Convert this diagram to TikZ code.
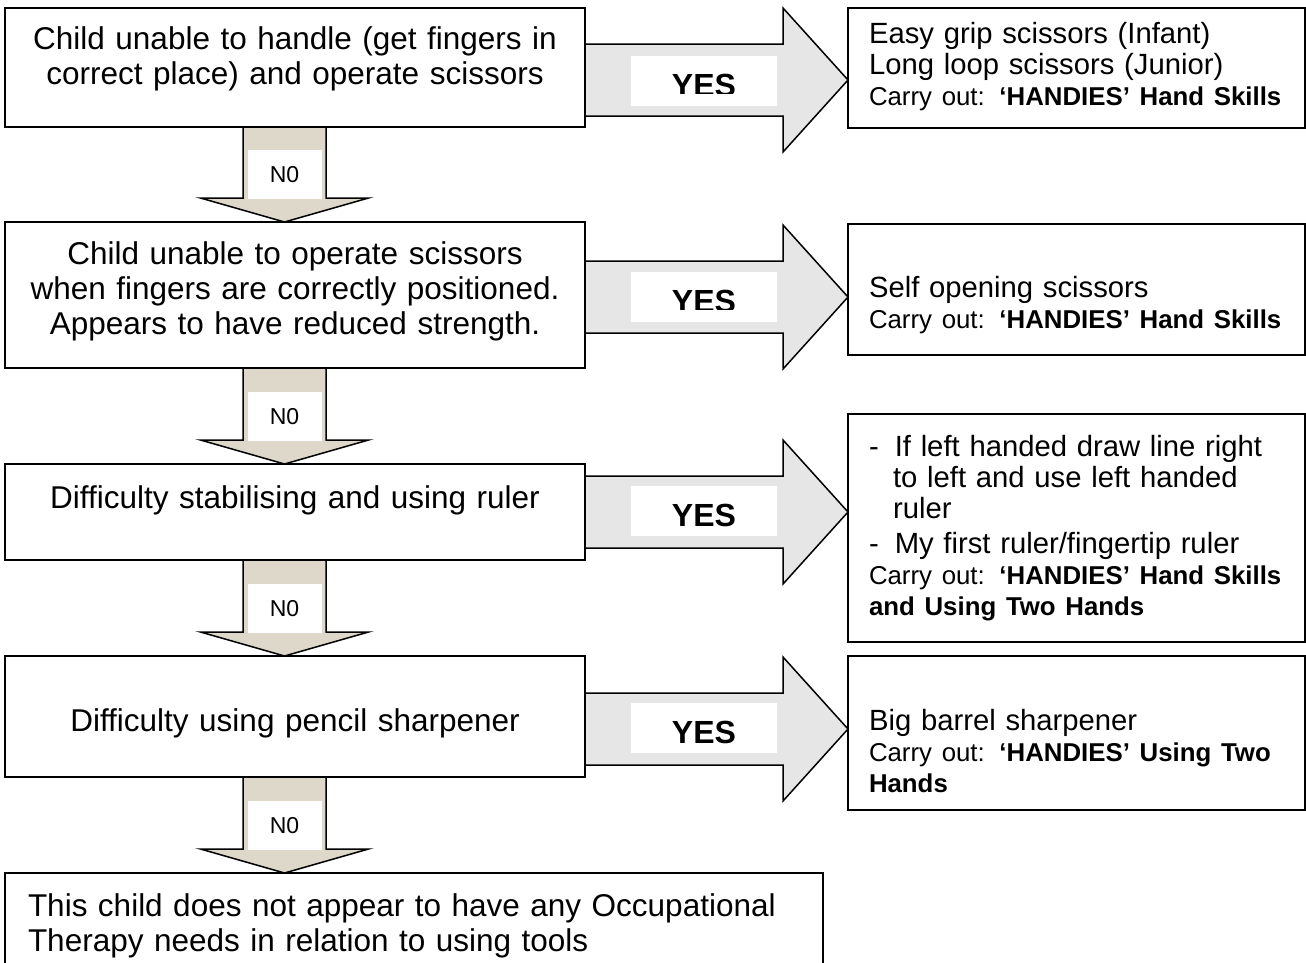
\documentclass[tikz,border=0pt]{standalone}
\usepackage{fontspec}
\setmainfont{Liberation Sans}
\usetikzlibrary{positioning, calc}

\definecolor{nofill}{RGB}{222,216,203}
\definecolor{yesfill}{RGB}{230,230,230}
\newcommand{\rindent}{\hspace*{19pt}}
\newcommand{\carryfont}{\fontsize{25.8}{31}\selectfont}

\begin{document}
\begin{tikzpicture}[x=1pt, y=-1pt,
        qbox/.style={
            draw=black, fill=white, line width=1.5pt, outer sep=0pt,
            anchor=north west, inner xsep=10pt, inner ysep=0pt,
            text width=560pt, align=center,
            font=\fontsize{31.5}{35}\selectfont
        },
        rbox/.style={
            draw=black, fill=white, line width=1.5pt, outer sep=0pt,
            anchor=north west, inner xsep=2pt, inner ysep=0pt,
            text width=453pt, align=left,
            font=\fontsize{29.25}{31}\selectfont
        },
        noarrow/.style={draw=black, fill=nofill, line width=1.5pt, line join=miter},
        yesarrow/.style={draw=black, fill=yesfill, line width=1.5pt, line join=miter},
        nolabel/.style={fill=white, minimum width=74pt, minimum height=49pt, inner sep=0pt,
            font=\fontsize{23}{27}\selectfont},
        yeslabel/.style={fill=white, minimum width=146pt, minimum height=50pt, inner sep=0pt},
        yestext/.style={inner sep=0pt, text height=30pt, text depth=0pt,
            font=\fontsize{32}{36}\selectfont\bfseries}
    ]
        \useasboundingbox (0,0) rectangle (1306,962);

        % questions
        \node[qbox, text height=41pt, text depth=78pt] (q1) at (5,8) {
            Child unable to handle (get fingers in\\
            correct place) and operate scissors
        };
        \node[qbox, text height=42pt, text depth=104pt] (q2) at (5,222) {
            Child unable to operate scissors\\
            when fingers are correctly positioned.\\
            Appears to have reduced strength.
        };
        \node[qbox, text height=44pt, text depth=52pt] (q3) at (5,464) {
            Difficulty stabilising and using ruler
        };
        \node[qbox, text height=75pt, text depth=46pt] (q4) at (5,656) {
            Difficulty using pencil sharpener
        };
        \node[qbox, text height=43pt, text depth=52pt, inner xsep=23pt,
            text width=772pt, align=left] (q5) at (5,873) {
            This child does not appear to have any Occupational\\
            Therapy needs in relation to using tools
        };

        % answers
        \node[rbox, text height=35pt, text depth=85pt] (r1) at (848,8) {
            \rindent Easy grip scissors (Infant)\\
            \rindent Long loop scissors (Junior)\\
            \rindent {\carryfont Carry out: \textbf{‘HANDIES’ Hand Skills}}
        };
        \node[rbox, text height=73pt, text depth=58pt] (r2) at (848,224) {
            \rindent Self opening scissors\\
            \rindent {\carryfont Carry out: \textbf{‘HANDIES’ Hand Skills}}
        };
        \node[rbox, text height=42pt, text depth=186pt] (r3) at (848,414) {
            \rindent -\hspace*{16pt}If left handed draw line right\\
            \hspace*{43pt}to left and use left handed\\
            \hspace*{43pt}ruler\\[4pt]
            \rindent -\hspace*{16pt}My first ruler/fingertip ruler\\
            \rindent {\carryfont Carry out: \textbf{‘HANDIES’ Hand Skills}}\\
            \rindent {\carryfont\bfseries and Using Two Hands}
        };
        \node[rbox, text height=74pt, text depth=80pt] (r4) at (848,656) {
            \rindent Big barrel sharpener\\
            \rindent {\carryfont Carry out: \textbf{‘HANDIES’ Using Two}}\\
            \rindent {\carryfont\bfseries Hands}
        };

        % NO arrows
        \coordinate (spine) at (284.5,0);
        \draw[noarrow] ($(spine |- q1.south)+(-41.5,0)$) -- ($(spine |- q2.north)+(-41.5,-24)$)
            -- ++(-42.5,0) -- (spine |- q2.north) -- ++(84,-24) -- ++(-42.5,0)
            -- ($(spine |- q1.south)+(41.5,0)$) -- cycle;
        \node[nolabel] (n1) at ($(spine |- q2.north)+(0,-47.5)$) {N0};

        \draw[noarrow] ($(spine |- q2.south)+(-41.5,0)$) -- ($(spine |- q3.north)+(-41.5,-24)$)
            -- ++(-42.5,0) -- (spine |- q3.north) -- ++(84,-24) -- ++(-42.5,0)
            -- ($(spine |- q2.south)+(41.5,0)$) -- cycle;
        \node[nolabel] (n2) at ($(spine |- q3.north)+(0,-47.5)$) {N0};

        \draw[noarrow] ($(spine |- q3.south)+(-41.5,0)$) -- ($(spine |- q4.north)+(-41.5,-24)$)
            -- ++(-42.5,0) -- (spine |- q4.north) -- ++(84,-24) -- ++(-42.5,0)
            -- ($(spine |- q3.south)+(41.5,0)$) -- cycle;
        \node[nolabel] (n3) at ($(spine |- q4.north)+(0,-47.5)$) {N0};

        \draw[noarrow] ($(spine |- q4.south)+(-41.5,0)$) -- ($(spine |- q5.north)+(-41.5,-24)$)
            -- ++(-42.5,0) -- (spine |- q5.north) -- ++(84,-24) -- ++(-42.5,0)
            -- ($(spine |- q4.south)+(41.5,0)$) -- cycle;
        \node[nolabel] (n4) at ($(spine |- q5.north)+(0,-47.5)$) {N0};

        % YES arrows
        \coordinate (t1) at ($(r1.north west)+(0,72)$);
        \coordinate (t2) at ($(r2.north west)+(0,73)$);
        \coordinate (t3) at ($(r3.north west)+(0,98)$);
        \coordinate (t4) at ($(r4.north west)+(0,73)$);

        \draw[yesarrow] ($(q1.east |- t1)+(0,-36)$) -- ($(t1)+(-65,-36)$) -- ++(0,-36)
            -- (t1) -- ++(-65,72) -- ++(0,-36) -- ($(q1.east |- t1)+(0,36)$) -- cycle;
        \node[yeslabel] (y1) at ($(t1)+(-144,1)$) {};
        \begin{scope}
            \clip (y1.north west) rectangle ($(y1.south east)+(0,-13)$);
            \node[yestext] at (y1) {YES};
        \end{scope}

        \draw[yesarrow] ($(q2.east |- t2)+(0,-36)$) -- ($(t2)+(-65,-36)$) -- ++(0,-36)
            -- (t2) -- ++(-65,72) -- ++(0,-36) -- ($(q2.east |- t2)+(0,36)$) -- cycle;
        \node[yeslabel] (y2) at ($(t2)+(-144,0)$) {};
        \begin{scope}
            \clip (y2.north west) rectangle ($(y2.south east)+(0,-13)$);
            \node[yestext] at (y2) {YES};
        \end{scope}

        \draw[yesarrow] ($(q3.east |- t3)+(0,-36)$) -- ($(t3)+(-65,-36)$) -- ++(0,-36)
            -- (t3) -- ++(-65,72) -- ++(0,-36) -- ($(q3.east |- t3)+(0,36)$) -- cycle;
        \node[yeslabel] (y3) at ($(t3)+(-144,-1)$) {};
        \node[yestext] at (y3) {YES};

        \draw[yesarrow] ($(q4.east |- t4)+(0,-36)$) -- ($(t4)+(-65,-36)$) -- ++(0,-36)
            -- (t4) -- ++(-65,72) -- ++(0,-36) -- ($(q4.east |- t4)+(0,36)$) -- cycle;
        \node[yeslabel] (y4) at ($(t4)+(-144,-1)$) {};
        \node[yestext] at (y4) {YES};
    \end{tikzpicture}
\end{document}
